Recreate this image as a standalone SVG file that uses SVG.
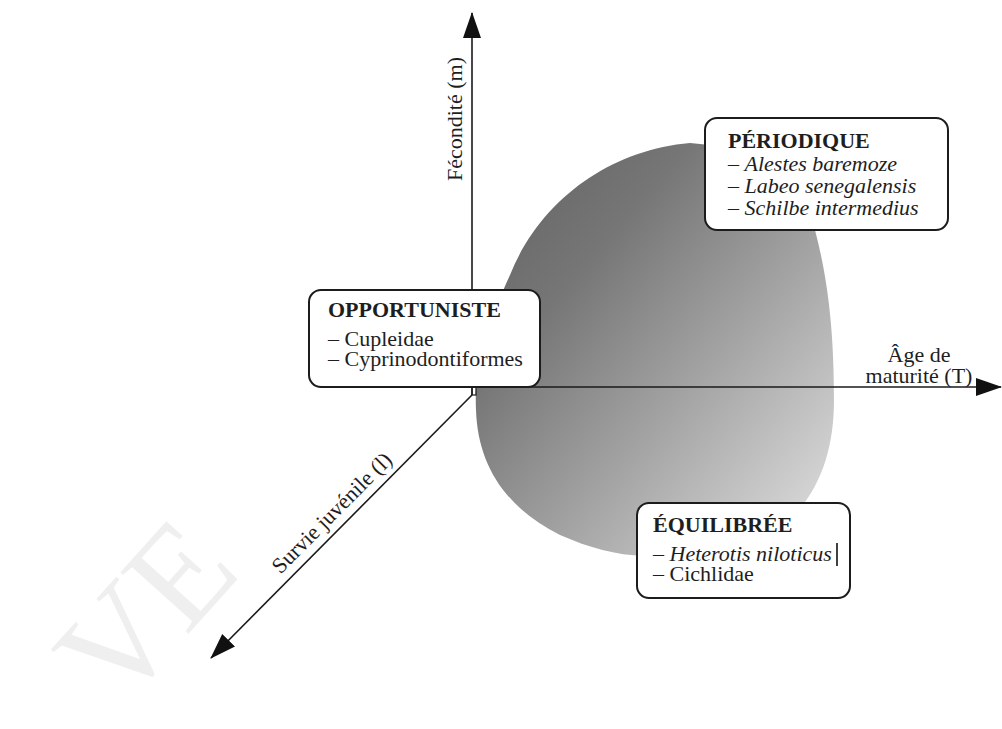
<svg xmlns="http://www.w3.org/2000/svg" width="1002" height="729" viewBox="0 0 1002 729">
  <defs>
    <linearGradient id="blobFill" x1="0" y1="0" x2="1" y2="1">
      <stop offset="0" stop-color="#606060"/>
      <stop offset="0.3" stop-color="#767676"/>
      <stop offset="0.6" stop-color="#a4a4a4"/>
      <stop offset="1" stop-color="#e4e4e4"/>
    </linearGradient>
    <marker id="arrow" viewBox="0 0 26 20" refX="25" refY="10" markerWidth="26" markerHeight="20" markerUnits="userSpaceOnUse" orient="auto">
      <path d="M0,1 L26,10 L0,19 Z" fill="#111"/>
    </marker>
    <style>
      .axis { stroke: #1a1a1a; stroke-width: 1.6; fill: none; }
      .box { fill: #ffffff; stroke: #1c1c1c; stroke-width: 2; }
      .lbl { font-family: "Liberation Serif", "Times New Roman", serif; font-size: 22px; fill: #1e1e1e; }
      .ttl { font-family: "Liberation Serif", "Times New Roman", serif; font-size: 22px; font-weight: bold; fill: #1e1e1e; }
      .it { font-style: italic; }
      .wm { font-family: "Liberation Serif", "Times New Roman", serif; font-size: 140px; fill: #efefef; }
    </style>
  </defs>

  <rect width="1002" height="729" fill="#ffffff"/>

  <!-- faint background lettering -->
  <text class="wm" transform="translate(118,712) rotate(-48)">VE</text>

  <!-- shaded strategy region -->
  <path id="region" d="M 690,143 C 610,150 540,200 510,275 C 485,330 474,370 476,410 C 478,470 510,510 560,535 C 590,548 615,555 645,556 L 790,520 C 820,490 834,450 834,400 C 834,330 828,280 815,230 L 760,150 Z" fill="url(#blobFill)"/>

  <!-- axes -->
  <g id="connectors">
    <line class="axis" x1="472" y1="395" x2="472" y2="13" marker-end="url(#arrow)"/>
    <line class="axis" x1="472" y1="387" x2="1001" y2="387" marker-end="url(#arrow)"/>
    <line class="axis" x1="472" y1="395" x2="211" y2="658" marker-end="url(#arrow)"/>
    <rect x="472" y="387" width="4" height="8" fill="none" stroke="#1a1a1a" stroke-width="1.2"/>
  </g>

  <!-- axis labels -->
  <text class="lbl" text-anchor="middle" transform="translate(462,119) rotate(-90)">Fécondité (m)</text>
  <text class="lbl" text-anchor="middle" x="919" y="362">Âge de</text>
  <text class="lbl" text-anchor="middle" x="919" y="383">maturité (T)</text>
  <text class="lbl" text-anchor="middle" transform="translate(337,518) rotate(-45.2)">Survie juvénile (l)</text>

  <!-- strategy boxes -->
  <g id="opportuniste">
    <rect class="box" x="309" y="290" width="231" height="97" rx="12"/>
    <text class="ttl" x="328" y="317">OPPORTUNISTE</text>
    <text class="lbl" x="328" y="346">– Cupleidae</text>
    <text class="lbl" x="328" y="366">– Cyprinodontiformes</text>
  </g>

  <g id="periodique">
    <rect class="box" x="705" y="118" width="243" height="112" rx="12"/>
    <text class="ttl" x="728" y="148">PÉRIODIQUE</text>
    <text class="lbl" x="728" y="171">– <tspan class="it">Alestes baremoze</tspan></text>
    <text class="lbl" x="728" y="193">– <tspan class="it">Labeo senegalensis</tspan></text>
    <text class="lbl" x="728" y="215">– <tspan class="it">Schilbe intermedius</tspan></text>
  </g>

  <g id="equilibree">
    <rect class="box" x="637" y="503" width="213" height="95" rx="12"/>
    <text class="ttl" x="653" y="532">ÉQUILIBRÉE</text>
    <text class="lbl" x="653" y="561">– <tspan class="it">Heterotis niloticus</tspan></text>
    <line x1="837" y1="543" x2="837" y2="566" stroke="#111" stroke-width="1.6"/>
    <text class="lbl" x="653" y="581">– Cichlidae</text>
  </g>
</svg>
